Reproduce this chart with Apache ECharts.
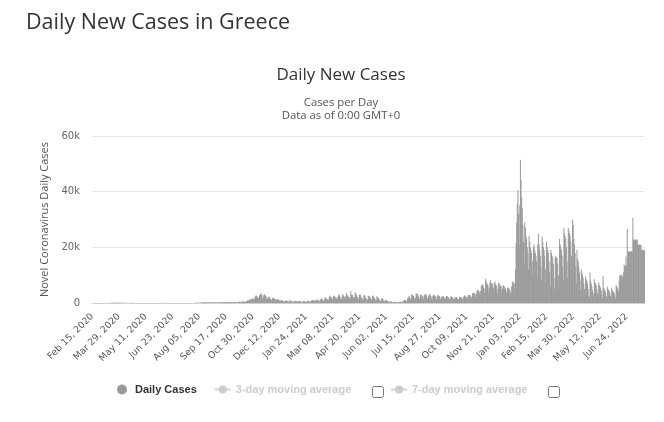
<!DOCTYPE html>
<html>
<head>
<meta charset="utf-8">
<script src="https://cdn.jsdelivr.net/npm/echarts@6/dist/echarts.min.js"></script>
<style>
html,body{margin:0;padding:0;background:#fff;}
#chart{width:664px;height:422px;}
</style>
</head>
<body>
<div id="chart"></div>
<script>
// Daily new cases, Feb 15 2020 .. Dec 31 2020
const cases2020 = [
  0,0,0,0,0,0,0,0,0,0,0,1,2,1,3,
  0,0,0,2,1,24,13,7,11,16,10,18,32,38,38,103,56,31,46,77,31,94,71,48,78,71,74,102,95,87,64,
  40,64,60,129,62,20,25,56,71,42,41,34,25,18,33,15,20,44,31,156,17,7,4,21,11,7,10,16,6,15,
  22,11,12,6,3,10,23,6,6,7,7,15,12,14,6,10,6,15,6,1,10,20,9,8,10,3,7,3,1,2,10,
  0,2,1,7,15,12,11,22,25,97,12,10,8,9,12,7,12,14,21,14,4,17,13,28,22,16,15,27,10,11,
  15,23,20,25,22,15,9,13,18,33,20,12,15,18,20,23,21,25,25,35,26,32,25,27,41,23,30,27,43,49,50,
  48,110,46,37,72,121,107,153,203,151,126,262,204,262,230,217,269,169,169,213,284,228,197,202,293,157,168,180,244,167,151,
  218,171,210,250,175,208,219,221,275,372,304,260,164,298,169,323,369,453,287,244,230,258,342,330,382,296,207,274,251,259,
  333,460,289,200,200,270,410,392,469,408,269,208,418,504,517,508,458,375,441,667,882,843,935,1211,865,1259,1547,1259,1211,1690,1059,
  1600,1400,2200,2600,2700,2400,2100,1900,1700,2800,2700,3300,3300,2800,1700,1900,2900,3100,2800,2600,2100,1600,1400,2100,1900,2300,1700,1500,1200,1000,
  1600,1900,1900,1500,1400,1100,700,1400,1300,1300,1200,1000,800,700,1200,1000,800,700,600,550,450,900,900,800,600,500,300,700,1000,800,900
];
// Jan 1 2021 .. Dec 31 2021
const cases2021 = [
  250,550,300,350,750,850,650,850,500,450,500,600,700,650,600,550,400,300,500,650,500,600,450,300,400,650,850,700,650,550,400,
  650,950,1000,850,1100,900,550,750,1200,1000,1200,1100,850,600,800,1350,1200,1800,1300,1000,850,1100,1500,2100,1700,1500,1400,1000,
  1100,1800,2600,2300,2100,1900,1300,1500,2400,2700,2400,2000,2000,1500,1500,2200,2700,3100,2500,2000,1500,1400,2300,3100,2800,2500,2000,1600,2400,3600,3000,
  2700,2300,2000,1500,2200,4300,3000,2900,2800,2100,1800,2000,3800,3500,3000,2500,1800,1300,2100,3000,3100,2700,2000,1700,1000,1600,2700,2900,2400,1800,
  1500,800,1200,2600,2500,2300,2100,1700,1100,1500,2700,2500,2200,1900,1500,800,1100,2400,2200,1800,1600,1300,800,700,1400,1800,1500,1300,1000,500,600,
  1100,1000,900,800,600,350,250,600,550,500,450,400,250,200,450,400,350,300,300,200,150,350,450,400,450,400,300,250,600,900,
  1000,1100,1100,700,600,1400,1900,2100,2500,1800,1200,1800,3100,2900,2800,2500,2000,1200,1700,3200,3500,3200,2900,2300,1600,1500,2900,3100,2800,2600,2000,
  1300,2700,3000,3100,3200,2600,1800,1400,2500,3000,3200,2800,2500,1600,1200,2500,3000,2800,2700,2400,1800,1200,2300,2800,2700,2600,2400,1700,1100,2100,2500,
  2400,2300,2100,1700,1200,1900,2500,2400,2300,2100,1600,1000,1700,2300,2300,2200,2000,1500,1000,1500,2200,2100,2200,1900,1500,1100,1500,2100,2300,2200,
  2000,1700,1200,1800,2500,2700,2600,2300,2000,1400,2200,2900,2900,2900,2800,2300,1700,2300,3500,3600,3700,3500,3100,2000,3300,4200,4700,4600,4500,3800,2500,
  4300,6000,6700,6500,6400,5400,3600,5300,8700,7700,7000,6700,6200,4000,5500,7300,8200,7300,7000,6800,4400,5500,7300,7700,6700,6600,6000,3600,5000,7300,
  7000,6300,6200,5900,4200,5000,6500,6200,5900,5600,5200,4100,3600,5300,5600,5500,5000,4500,3300,4000,6000,7500,7800,6800,4800,7200,12000,21600,28800,35600,40600
];
// Jan 1 2022 .. Jul 23 2022
const cases2022 = [
  32000,21000,35000,51500,44000,38000,34000,28000,22000,14000,29000,27000,24000,23000,20000,18000,12000,24000,22000,20000,19000,18000,15000,10000,20000,21000,19000,18000,17000,15000,9000,
  21000,25000,21000,19000,17000,13000,8000,24000,22000,20000,19000,17000,12000,7000,22000,20000,19000,18000,15000,11000,6000,19000,18000,17000,16000,14000,9000,5000,
  17000,16000,16500,16000,14000,10000,6000,23000,21000,20000,19000,17000,13000,8000,27000,25000,24000,23000,20000,15000,9000,27000,26000,25000,24000,22000,17000,10000,30000,28000,23000,
  21000,18000,13000,7000,19000,16000,15000,13000,11000,8000,4500,12000,11000,10000,9000,7000,5000,3000,9500,8500,8000,7000,5000,2500,2000,11000,8000,7000,6000,4500,
  3500,2000,8500,7500,7000,6500,5000,3500,2000,7500,6500,6000,5500,4500,3000,1800,9800,5500,5000,4500,3800,2500,1500,5800,5000,4500,4200,3500,2500,1500,5500,
  4500,4200,4000,3500,2500,1500,6500,6000,5500,5000,4000,8000,10000,9800,10200,9900,9500,7600,11000,13700,13500,13000,16700,13500,26700,18500,18300,18600,18400,18500,
  18200,18600,18400,30500,22700,22800,22600,22700,22900,22500,22700,20900,21000,20800,21000,20900,20800,19000,19100,18900,19000,19100,18900
];
const startDate = [2020, 1, 15]; // Feb 15, 2020
const monthNames = ['Jan','Feb','Mar','Apr','May','Jun','Jul','Aug','Sep','Oct','Nov','Dec'];
const tickLabels = [
  'Feb 15, 2020','Mar 29, 2020','May 11, 2020','Jun 23, 2020','Aug 05, 2020','Sep 17, 2020',
  'Oct 30, 2020','Dec 12, 2020','Jan 24, 2021','Mar 08, 2021','Apr 20, 2021','Jun 02, 2021',
  'Jul 15, 2021','Aug 27, 2021','Oct 09, 2021','Nov 21, 2021','Jan 03, 2022','Feb 15, 2022',
  'Mar 30, 2022','May 12, 2022','Jun 24, 2022'
];
const yTicks = [0, 20000, 40000, 60000];

const dailyCases = cases2020.concat(cases2021, cases2022);
const categories = dailyCases.map(function (v, i) {
  const d = new Date(Date.UTC(startDate[0], startDate[1], startDate[2] + i));
  const dd = String(d.getUTCDate()).padStart(2, '0');
  return monthNames[d.getUTCMonth()] + ' ' + dd + ', ' + d.getUTCFullYear();
});

const chart = echarts.init(document.getElementById('chart'), null, {renderer: 'canvas'});
const legendText = {fontFamily: 'Liberation Sans', fontWeight: 'bold', fontSize: 11, color: '#333'};
chart.setOption({
  animation: false,
  backgroundColor: '#fff',
  title: [
    {text: 'Daily New Cases in Greece', left: 26, top: 12, padding: 0,
     textStyle: {fontFamily: 'Open Sans', fontSize: 21.5, fontWeight: 'normal', color: '#333'}},
    {text: 'Daily New Cases', subtext: 'Cases per Day\nData as of 0:00 GMT+0',
     left: 341, top: 67, padding: 0, textAlign: 'center', itemGap: 12,
     textStyle: {fontFamily: 'Open Sans', fontSize: 17, fontWeight: 'normal', color: '#333'},
     subtextStyle: {fontFamily: 'Open Sans', fontSize: 11.3, color: '#555', lineHeight: 13}}
  ],
  legend: [
    {left: 117, top: 384, itemWidth: 16, itemHeight: 10, itemGap: 17, padding: 0,
     data: [{name: 'Daily Cases', icon: 'circle'}, '3-day moving average'],
     textStyle: legendText, inactiveColor: '#ccc',
     selected: {'3-day moving average': false, '7-day moving average': false}},
    {left: 390, top: 384, itemWidth: 16, itemHeight: 10, padding: 0,
     data: ['7-day moving average'],
     textStyle: legendText, inactiveColor: '#ccc',
     selected: {'3-day moving average': false, '7-day moving average': false}}
  ],
  grid: {left: 92, right: 19, top: 136, bottom: 119, containLabel: false},
  xAxis: {
    type: 'category',
    data: categories,
    boundaryGap: true,
    axisLine: {lineStyle: {color: '#d0d0d0'}},
    axisTick: {show: false},
    axisLabel: {
      interval: function (idx, val) { return tickLabels.indexOf(val) >= 0; },
      rotate: 45, fontFamily: 'DejaVu Sans', fontSize: 9.3, color: '#555', margin: 12
    },
    splitLine: {show: false}
  },
  yAxis: {
    type: 'value', min: yTicks[0], max: yTicks[yTicks.length - 1], interval: 20000,
    name: 'Novel Coronavirus Daily Cases', nameLocation: 'middle', nameGap: 41,
    nameTextStyle: {fontFamily: 'Open Sans', fontSize: 11, color: '#555'},
    axisLine: {show: false}, axisTick: {show: false},
    axisLabel: {fontFamily: 'DejaVu Sans', fontSize: 10, color: '#666', margin: 12,
      formatter: function (v) { return v === 0 ? '0' : (v / 1000) + 'k'; }},
    splitLine: {lineStyle: {color: '#e6e6e6'}}
  },
  series: [
    {name: 'Daily Cases', type: 'bar', data: dailyCases, barCategoryGap: '0%',
     itemStyle: {color: '#999'}},
    {name: '3-day moving average', type: 'line', data: [], symbol: 'circle', symbolSize: 6,
     itemStyle: {color: '#999'}, lineStyle: {color: '#999'}},
    {name: '7-day moving average', type: 'line', data: [], symbol: 'circle', symbolSize: 6,
     itemStyle: {color: '#999'}, lineStyle: {color: '#999'}}
  ],
  graphic: [
    {type: 'rect', left: 372, top: 386, shape: {width: 11, height: 11, r: 2},
     style: {fill: '#fff', stroke: '#767676', lineWidth: 1}},
    {type: 'rect', left: 548, top: 386, shape: {width: 11, height: 11, r: 2},
     style: {fill: '#fff', stroke: '#767676', lineWidth: 1}}
  ]
});
</script>
</body>
</html>
